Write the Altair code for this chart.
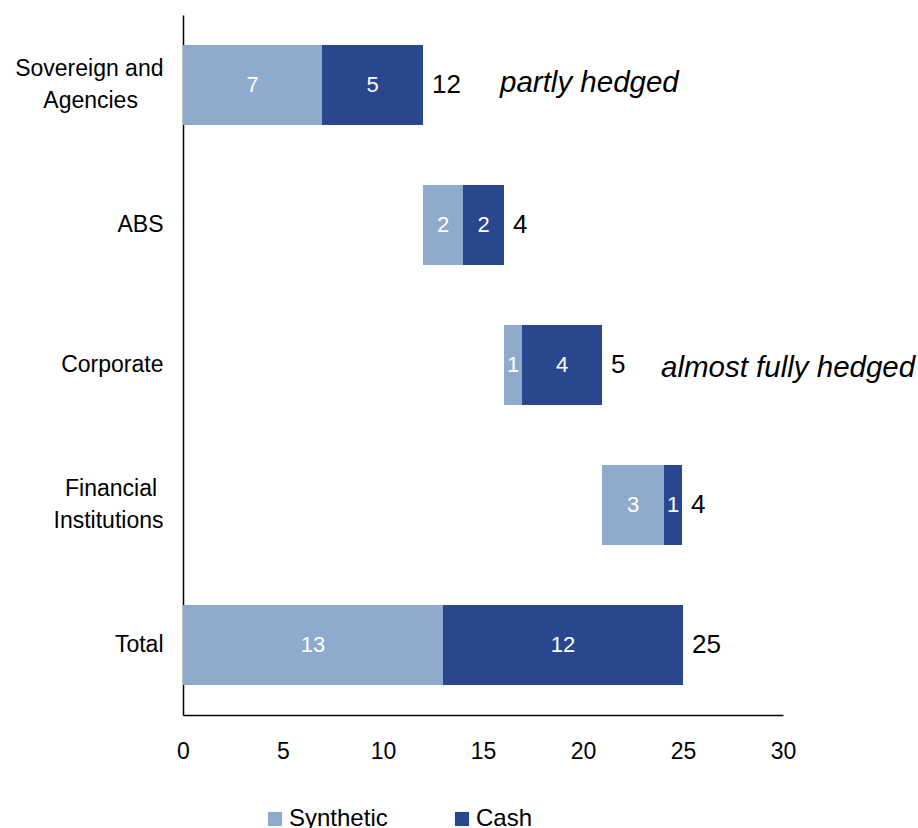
import altair as alt
import pandas as pd

categories = ["Sovereign and Agencies", "ABS", "Corporate", "Financial Institutions", "Total"]
synthetic = [6.95, 2.0, 0.9, 3.1, 13.0]
cash = [5.05, 2.05, 4.0, 0.9, 12.0]
series = ["Synthetic", "Cash"]
colors = ["#8EAACD", "#28478E"]
notes = {"Sovereign and Agencies": "partly hedged", "Corporate": "almost fully hedged"}

FONT = "Liberation Sans"

rows, totals = [], []
base = 0.0
for cat, s, c in zip(categories, synthetic, cash):
    start = 0.0 if cat == "Total" else base
    rows.append({"cat": cat, "series": "Synthetic", "x0": start, "x1": start + s, "v": s})
    rows.append({"cat": cat, "series": "Cash", "x0": start + s, "x1": start + s + c, "v": c})
    totals.append({"cat": cat, "end": start + s + c, "total": s + c})
    if cat != "Total":
        base += s + c
bars_df = pd.DataFrame(rows)
tot_df = pd.DataFrame(totals)

FS = "\u2007"  # figure space
PS = "\u2008"  # punctuation space
ZW = "\u200b"  # zero-width space (keeps the spaces from being trimmed)
label_expr = (
    "datum.label == 'Sovereign and Agencies' ? ['Sovereign and', 'Agencies" + FS + FS + ZW + "'] : "
    "datum.label == 'Financial Institutions' ? ['Financial" + PS + ZW + "', 'Institutions'] : datum.label"
)
two_line = "datum.value == 'Sovereign and Agencies' || datum.value == 'Financial Institutions'"

yenc = alt.Y("cat:N", sort=categories,
             scale=alt.Scale(paddingInner=0.4286, paddingOuter=0.2143),
             axis=alt.Axis(title=None, ticks=False, labelPadding=20, labelFontSize=23,
                           labelFont=FONT, labelColor="black", domainColor="black",
                           domainWidth=1.5, labelLimit=300, labelLineHeight=32,
                           labelOffset={"condition": {"test": two_line, "value": -16}, "value": 0},
                           labelExpr=label_expr))
xscale = alt.Scale(domain=[0, 30], nice=False, zero=True)

bars = alt.Chart(bars_df).mark_bar().encode(
    x=alt.X("x0:Q", scale=xscale,
            axis=alt.Axis(title=None, values=[0, 5, 10, 15, 20, 25, 30], ticks=False, grid=False,
                          labelPadding=25, labelFontSize=23, labelFont=FONT, labelColor="black",
                          labelFlush=False, domainColor="black", domainWidth=1.5)),
    x2="x1:Q",
    y=yenc,
    color=alt.Color("series:N", scale=alt.Scale(domain=series, range=colors), sort=series,
                    legend=alt.Legend(title=None, orient="none", direction="horizontal",
                                      legendX=80, legendY=792, symbolType="square", symbolSize=200,
                                      symbolStrokeWidth=0, labelFontSize=24, labelFont=FONT,
                                      labelColor="black", columnPadding=62, labelOffset=2,
                                      padding=0)),
)

inner = alt.Chart(bars_df).transform_calculate(mid="(datum.x0 + datum.x1) / 2").mark_text(
    color="white", fontSize=22, font=FONT
).encode(
    x=alt.X("mid:Q", scale=xscale),
    y=alt.Y("cat:N", sort=categories),
    text=alt.Text("v:Q", format=".0f"),
)

tot = alt.Chart(tot_df).mark_text(
    color="black", fontSize=26, font=FONT, align="left", dx=9
).encode(
    x=alt.X("end:Q", scale=xscale),
    y=alt.Y("cat:N", sort=categories),
    text=alt.Text("total:Q", format=".0f"),
)

note_layers = []
for cat, dx, dy in [("Sovereign and Agencies", 77, -2), ("Corporate", 59, 3)]:
    sub = tot_df[tot_df["cat"] == cat].assign(note=notes[cat])
    note_layers.append(
        alt.Chart(sub).mark_text(
            color="black", fontSize=29.5, font=FONT, fontStyle="italic", align="left", dx=dx, dy=dy
        ).encode(
            x=alt.X("end:Q", scale=xscale),
            y=alt.Y("cat:N", sort=categories),
            text="note:N",
        )
    )

chart = alt.layer(bars, inner, tot, *note_layers).properties(
    width=600, height=700,
    background="white",
    autosize=alt.AutoSizeParams(type="none"),
    padding={"left": 183, "top": 15, "right": 135, "bottom": 113},
).configure_view(stroke=None)

chart.save("out.html", embed_options={"renderer": "svg", "actions": False})
